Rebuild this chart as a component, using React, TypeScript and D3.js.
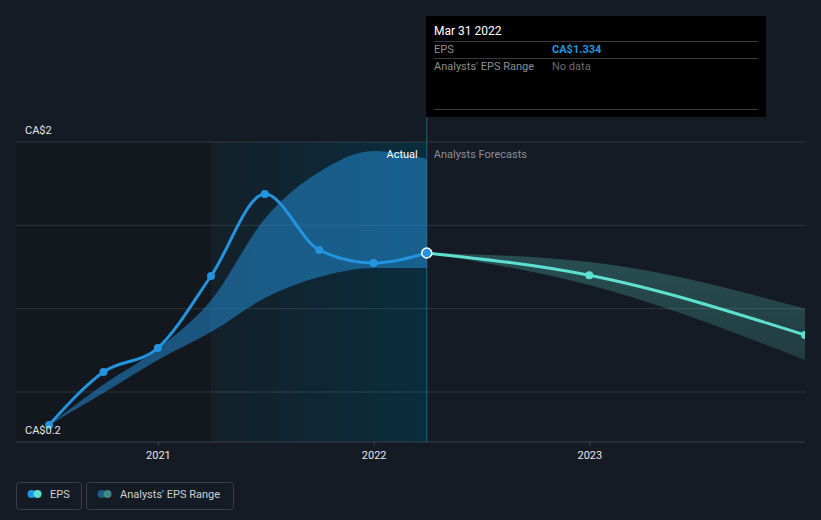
import React from "react";
import * as d3 from "d3";

const W = 821;
const H = 520;

const actualDates = ["2020-06-30", "2020-09-30", "2020-12-31", "2021-03-31", "2021-06-30", "2021-09-30", "2021-12-31", "2022-03-31"];
const actualEps = [0.302, 0.62, 0.764, 1.196, 1.688, 1.352, 1.274, 1.334];
const pastRangeLow = [0.302, 0.494, 0.692, 0.86, 1.064, 1.19, 1.244, 1.244];
const pastRangeHigh = [0.302, 0.545, 0.76, 1.05, 1.54, 1.82, 1.946, 1.898];

const forecastDates = ["2022-03-31", "2022-12-31", "2023-12-31"];
const forecastEps = [1.334, 1.2, 0.842];
const forecastLow = [1.334, 1.142, 0.692];
const forecastHigh = [1.334, 1.28, 1.0];

const yTicks = [0.5, 1.0, 1.5, 2.0];
const xTicks = ["2021-01-01", "2022-01-01", "2023-01-01"];
const xTickLabels = ["2021", "2022", "2023"];

const parse = (s: string) => new Date(s + "T00:00:00");

export default function App() {
  const left = 16;
  const right = 805;
  const top = 142;
  const bottom = 442;

  const x = d3.scaleTime().domain([parse("2020-05-05"), parse("2023-12-31")]).range([left, right]);
  const y = d3.scaleLinear().domain([0.2, 2]).range([bottom, top]);

  const actual = actualDates.map((d, i) => ({ d: parse(d), v: actualEps[i], lo: pastRangeLow[i], hi: pastRangeHigh[i] }));
  const fc = forecastDates.map((d, i) => ({ d: parse(d), v: forecastEps[i], lo: forecastLow[i], hi: forecastHigh[i] }));

  const line = d3.line<any>().x((p) => x(p.d)).y((p) => y(p.v)).curve(d3.curveMonotoneX);
  const area = d3.area<any>().x((p) => x(p.d)).y0((p) => y(p.lo)).y1((p) => y(p.hi)).curve(d3.curveMonotoneX);

  const xNow = x(parse("2022-03-31"));
  const xHl = x(parse("2021-03-31"));

  const font = "Roboto, 'Noto Sans', sans-serif";

  return (
    <svg width={W} height={H} style={{ display: "block", position: "absolute", left: 0, top: 0 }} fontFamily={font}>
      <defs>
        <linearGradient id="hl" x1="0" x2="1" y1="0" y2="0">
          <stop offset="0%" stopColor="#13202a" />
          <stop offset="100%" stopColor="#0a2d3e" />
        </linearGradient>
        <linearGradient id="fcArea" x1="0" x2="0" y1="0" y2="1">
          <stop offset="0%" stopColor="#5ee0d0" stopOpacity="0.26" />
          <stop offset="100%" stopColor="#5ee0d0" stopOpacity="0.17" />
        </linearGradient>
        <clipPath id="plot">
          <rect x={left} y={0} width={right - left} height={bottom} />
        </clipPath>
      </defs>
      <rect x={0} y={0} width={W} height={H} fill="#151b24" />
      <rect x={left} y={top} width={xHl - left} height={bottom - top} fill="#13171e" />
      <rect x={xHl} y={top} width={xNow - xHl} height={bottom - top} fill="url(#hl)" />

      {yTicks.map((t) => (
        <line key={t} x1={left} x2={right} y1={y(t)} y2={y(t)} stroke="#ffffff" strokeOpacity={0.12} strokeWidth={1} />
      ))}
      <line x1={left} x2={right} y1={bottom} y2={bottom} stroke="#3b4049" strokeWidth={1} />
      {xTicks.map((t, i) => (
        <g key={t}>
          <line x1={x(parse(t))} x2={x(parse(t))} y1={bottom} y2={bottom + 4} stroke="#3b4049" />
          <text x={x(parse(t))} y={459} textAnchor="middle" fontSize={11} fill="#e6e6e6">{xTickLabels[i]}</text>
        </g>
      ))}

      <line x1={xNow} x2={xNow} y1={117} y2={bottom} stroke="#1f6483" strokeWidth={1} />

      <g clipPath="url(#plot)">
        <path d={area(actual) || ""} fill="#2394df" fillOpacity={0.5} />
        <path d={area(fc) || ""} fill="url(#fcArea)" />
        <path d={line(fc) || ""} fill="none" stroke="#5ee0d0" strokeWidth={3} />
        <path d={line(actual) || ""} fill="none" stroke="#2394df" strokeWidth={3} />
        {fc.slice(1).map((p, i) => (
          <circle key={i} cx={x(p.d)} cy={y(p.v)} r={4} fill="#5ee0d0" />
        ))}
        {actual.slice(0, -1).map((p, i) => (
          <circle key={i} cx={x(p.d)} cy={y(p.v)} r={4} fill="#2394df" />
        ))}
        <circle cx={xNow} cy={y(actualEps[actualEps.length - 1])} r={5} fill="#2394df" stroke="#ffffff" strokeWidth={1.5} />
      </g>

      <text x={25} y={134} fontSize={11} fill="#e6e6e6">CA$2</text>
      <text x={25} y={434} fontSize={11} fill="#e6e6e6">CA$0.2</text>

      <text x={xNow - 9} y={158} textAnchor="end" fontSize={11} fill="#ffffff">Actual</text>
      <text x={xNow + 7} y={158} fontSize={11} fill="#8a8f96">Analysts Forecasts</text>

      <g>
        <rect x={426} y={16} width={340} height={101} fill="#000000" />
        <text x={434} y={35} fontSize={12} fill="#ffffff">Mar 31 2022</text>
        <line x1={434} x2={758} y1={41.5} y2={41.5} stroke="#3a3a3a" />
        <text x={434} y={52.5} fontSize={11} fill="#8d8d8d">EPS</text>
        <text x={552} y={52.5} fontSize={11} fill="#2394df" fontWeight={700}>CA$1.334</text>
        <line x1={434} x2={758} y1={58.5} y2={58.5} stroke="#3a3a3a" />
        <text x={434} y={69.5} fontSize={11} fill="#8d8d8d">Analysts' EPS Range</text>
        <text x={552} y={69.5} fontSize={11} fill="#6b6b6b">No data</text>
        <line x1={434} x2={758} y1={109.5} y2={109.5} stroke="#3a3a3a" />
      </g>

      <g>
        <rect x={16.5} y={482.5} width={65} height={27} rx={3} fill="none" stroke="#3a3f48" />
        <circle cx={31.5} cy={494} r={4} fill="#2394df" />
        <circle cx={37.5} cy={494} r={4} fill="#5ee0d0" />
        <text x={50} y={498} fontSize={11} fill="#d0d0d0">EPS</text>
        <rect x={86.5} y={482.5} width={147} height={27} rx={3} fill="none" stroke="#3a3f48" />
        <circle cx={101.5} cy={494} r={4} fill="#1d5b86" />
        <circle cx={107.5} cy={494} r={4} fill="#3e8a84" />
        <text x={120} y={498} fontSize={11} fill="#d0d0d0">Analysts' EPS Range</text>
      </g>
    </svg>
  );
}
